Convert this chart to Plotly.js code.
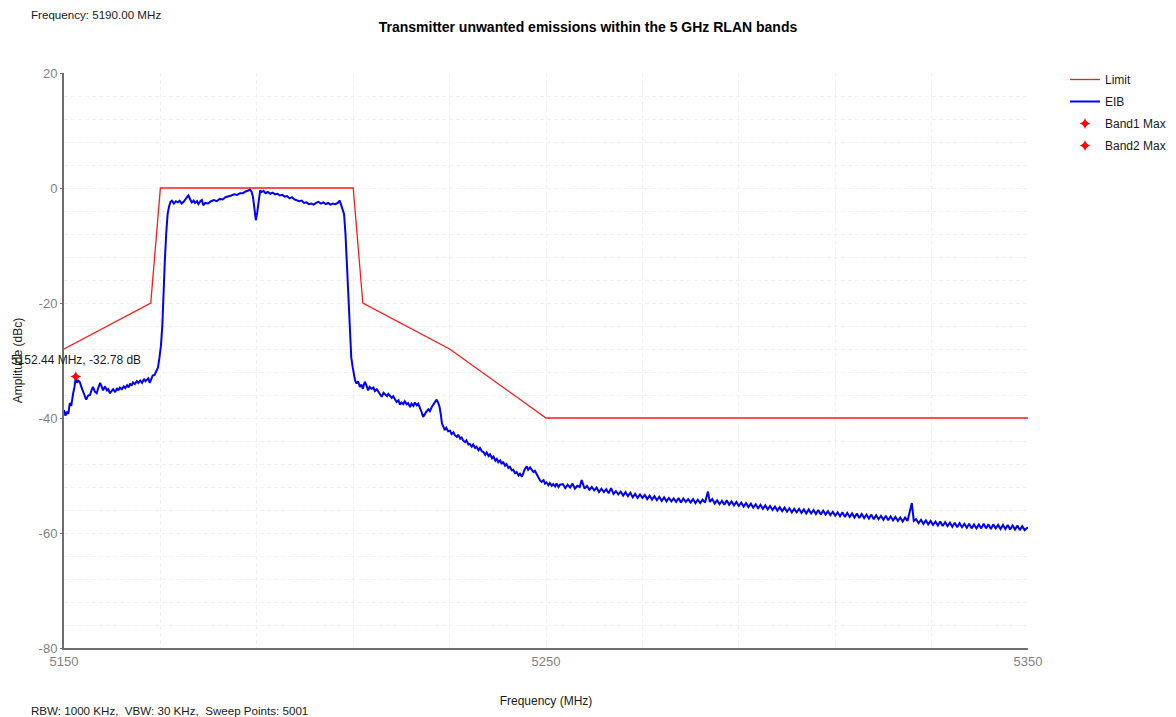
<!DOCTYPE html>
<html>
<head>
<meta charset="utf-8">
<script src="https://cdn.plot.ly/plotly-3.0.1.min.js"></script>
<style>html,body{margin:0;padding:0;background:#fff;}#chart{width:1176px;height:717px;}</style>
</head>
<body>
<div id="chart"></div>
<script>
// Limit mask (MHz, dBc)
const limitFreq = [5150, 5168, 5170, 5210, 5212, 5230, 5250, 5350];
const limitDb   = [-28, -20, 0, 0, -20, -28, -40, -40];

// Band markers
const band1Freq = [5152.44];
const band1Db   = [-32.78];
const band2Freq = [null];
const band2Db   = [null];

// EIB trace
const eibFreq = [
5150.0,5150.3,5150.6,5150.9,5151.2,5151.5,5151.9,5152.2,5152.44,5152.7,5152.9,5153.3,5153.6,5153.9,5154.3,5154.6,5155.0,5155.4,5155.7,5156.0,
5156.4,5156.8,5157.1,5157.5,5157.8,5158.1,5158.5,5158.9,5159.2,5159.5,5159.9,5160.2,5160.6,5161.0,5161.3,5161.6,5162.0,5162.4,5162.7,5163.1,
5163.4,5163.7,5164.0,5164.3,5164.7,5165.1,5165.4,5165.8,5166.2,5166.6,5166.9,5167.2,5167.5,5167.8,5168.1,5168.4,5168.8,5169.1,5169.5,5169.8,
5170.1,5170.4,5170.6,5170.9,5171.2,5171.5,5171.8,5172.1,
5172.4,5172.8,5173.2,5173.6,5174.0,5174.4,5174.8,5175.1,5175.5,5175.8,5176.2,5176.5,5176.9,5177.2,5177.6,5177.9,5178.3,5178.6,5178.9,5179.3,
5179.9,5180.5,5181.1,5181.7,5182.3,5182.9,5183.5,5184.1,5184.7,5185.3,5185.9,5186.5,5187.1,5187.7,5188.2,5188.6,5188.9,5189.2,5189.5,5189.8,
5190.1,5190.4,5190.7,5191.0,5191.4,5191.8,5192.3,5192.8,5193.3,5193.8,5194.3,5194.8,5195.3,5195.8,5196.3,5196.8,5197.3,5197.8,5198.3,5198.8,
5199.3,5199.8,5200.3,5200.8,5201.3,5201.8,5202.3,5202.8,5203.3,5203.8,5204.3,5204.8,5205.3,5205.8,5206.3,5206.8,5207.2,5207.5,5207.8,
5208.1,5208.4,5208.7,5209.0,5209.3,5209.6,5209.9,
5210.1,5210.4,5210.7,5211.0,5211.4,5211.7,5212.0,5212.4,5212.7,5213.1,5213.4,5213.8,5214.2,5214.5,5214.9,5215.2,5215.6,5215.9,5216.3,5216.6,
5217.0,5217.3,5217.6,5218.0,5218.3,5218.7,5219.0,5219.4,5219.7,5220.0,5220.4,5220.7,5221.1,5221.4,5221.8,5222.1,5222.5,5222.8,5223.2,5223.5,
5223.9,5224.2,5224.5,5224.9,5225.2,5225.6,5225.9,5226.3,5226.6,5226.9,5227.3,5227.6,5227.9,5228.2,5228.4,5228.7,5229.0,5229.3,5229.7,5230.1,
5230.4,5230.8,5231.1,5231.5,5231.8,5232.2,5232.5,5232.8,5233.2,5233.5,5233.9,5234.2,5234.6,5234.9,5235.3,5235.6,5236.0,5236.3,5236.7,5237.0,
5237.4,5237.7,5238.1,5238.4,5238.8,5239.1,5239.5,5239.8,5240.1,5240.5,5240.8,5241.1,5241.5,5241.8,5242.2,5242.5,5242.9,5243.2,5243.6,5243.9,
5244.3,5244.6,5245.0,5245.3,5245.6,5246.0,5246.3,5246.7,5247.0,5247.4,5247.7,5248.1,5248.4,5248.8,5249.1,5249.5,5249.8,5250.1,5250.5,5250.8,
5251.2,5251.5,5251.9,5252.2,5252.6,5252.9,
5253.5,5254.0,5254.5,5255.0,5255.5,5256.0,5256.5,5257.0,5257.4,5258.0,5258.5,5259.0,5259.5,5260.0,5260.5,5261.0,5261.5,5262.0,5262.5,5263.0,
5263.5,5264.0,5264.5,5265.0,5265.5,5266.0,5266.5,5267.0,5267.5,5268.0,5268.5,5269.0,5269.5,5270.0,5270.5,5271.0,5271.5,5272.0,5272.5,5273.0,
5273.5,5274.0,5274.5,5275.0,5275.5,5276.0,5276.5,5277.0,5277.5,5278.0,5278.5,5279.0,5279.5,5280.0,5280.5,5281.0,5281.5,5282.0,5282.5,5283.0,
5283.6,5284.0,5284.5,5285.0,5285.5,5286.0,5286.5,5287.0,5287.5,5288.0,5288.5,5289.0,5289.5,5290.0,5290.5,5291.0,5291.5,5292.0,5292.5,5293.0,
5293.5,5294.0,5294.5,5295.0,5295.5,5296.0,5296.5,5297.0,5297.5,5298.0,5298.5,5299.0,5299.5,5300.0,5300.5,5301.0,5301.5,5302.0,5302.5,5303.0,
5303.5,5304.0,5304.5,5305.0,5305.5,5306.0,5306.5,5307.0,5307.5,5308.0,5308.5,5309.0,5309.5,5310.0,5310.5,5311.0,5311.5,5312.0,5312.5,5313.0,
5313.5,5314.0,5314.5,5315.0,5315.5,5316.0,5316.5,5317.0,5317.5,5318.0,5318.5,5319.0,5319.5,5320.0,5320.5,5321.0,5321.5,5322.0,5322.5,5323.0,
5323.5,5324.0,5324.5,5325.0,5325.9,5326.3,5326.8,5327.3,5327.8,5328.3,5328.8,5329.3,5329.8,5330.3,5330.8,5331.3,5331.8,5332.3,5332.8,5333.3,
5333.8,5334.3,5334.8,5335.3,5335.8,5336.3,5336.8,5337.3,5337.8,5338.3,5338.8,5339.3,5339.8,5340.3,5340.8,5341.3,5341.8,5342.3,5342.8,5343.3,
5343.8,5344.3,5344.8,5345.3,5345.8,5346.3,5346.8,5347.3,5347.8,5348.3,5348.8,5349.3,5350.0
];
const eibDb = [
-38.6,-39.6,-38.9,-39.3,-37.4,-37.9,-35.7,-34.5,-32.8,-33.9,-33.4,-33.8,-34.6,-35.3,-36.2,-36.8,-36.1,-36.0,-35.2,-34.6,
-35.4,-35.7,-34.8,-33.9,-34.5,-35.2,-34.5,-35.2,-35.0,-35.7,-35.3,-35.0,-35.5,-34.8,-35.2,-34.7,-35.0,-34.5,-34.8,-34.3,
-34.7,-34.0,-34.4,-33.8,-34.1,-33.6,-33.9,-33.5,-33.9,-33.2,-33.6,-33.3,-33.1,-33.9,-33.2,-32.6,-32.5,-32.0,-31.2,-29.5,
-27.5,-24.0,-19.0,-13.0,-8.0,-4.5,-3.2,-2.4,
-2.2,-2.7,-2.3,-2.5,-2.2,-2.7,-2.4,-2.0,-1.6,-1.3,-2.0,-2.5,-2.2,-2.6,-2.3,-2.8,-2.3,-2.1,-3.0,-2.6,
-2.7,-2.3,-2.1,-2.3,-1.9,-2.0,-1.6,-1.5,-1.3,-1.1,-1.2,-0.9,-0.9,-0.6,-0.5,-0.3,-0.6,-1.5,-3.5,-5.6,
-4.2,-1.8,-0.4,-0.7,-0.5,-0.9,-0.7,-1.0,-0.8,-1.1,-1.0,-1.3,-1.2,-1.5,-1.4,-1.8,-1.6,-2.0,-2.1,-2.3,
-2.2,-2.6,-2.5,-2.8,-2.7,-2.9,-2.6,-2.4,-2.7,-2.5,-2.8,-2.6,-2.9,-2.7,-2.8,-2.6,-2.2,-2.9,-3.6,
-4.5,-8.0,-14.0,-20.0,-25.0,-29.5,-31.2,
-32.2,-33.5,-34.0,-33.6,-34.6,-34.2,-34.9,-33.7,-34.2,-35.2,-34.6,-34.9,-34.7,-35.3,-35.0,-35.4,-35.8,-36.3,-35.6,-35.8,
-36.2,-35.8,-36.1,-36.5,-36.2,-36.9,-37.2,-36.9,-37.7,-37.3,-37.6,-37.1,-37.6,-37.4,-38.1,-37.5,-37.9,-37.3,-37.8,-37.5,
-38.2,-39.0,-39.8,-39.2,-38.9,-38.5,-38.8,-38.1,-37.7,-37.2,-36.8,-37.3,-38.0,-39.5,-40.9,-41.5,-42.1,-41.7,-42.3,-42.2,
-42.8,-42.5,-43.0,-43.3,-42.9,-43.6,-43.4,-43.9,-44.2,-43.9,-44.6,-44.5,-45.0,-44.6,-45.2,-45.0,-45.6,-45.2,-45.8,-45.9,
-46.4,-46.0,-46.6,-46.3,-47.0,-46.7,-47.4,-47.1,-47.7,-47.4,-48.0,-47.6,-48.3,-48.0,-48.7,-48.5,-49.1,-49.0,-49.6,-49.4,
-50.0,-49.7,-50.2,-49.6,-48.9,-48.4,-49.0,-48.6,-48.9,-49.4,-49.2,-49.9,-50.4,-50.9,-51.1,-50.8,-51.4,-51.2,-51.7,-51.3,
-51.8,-51.5,-51.9,-51.4,-52.0,-51.6,
-51.5,-52.2,-51.6,-52.1,-51.4,-52.3,-51.8,-52.0,-50.8,-52.3,-51.8,-52.5,-52.0,-52.6,-52.1,-52.9,-52.3,-52.9,-52.4,-53.1,
-52.2,-53.2,-52.7,-53.3,-52.8,-53.5,-52.9,-53.6,-53.0,-53.8,-53.2,-53.9,-53.3,-53.9,-53.4,-54.1,-53.5,-54.2,-53.6,-54.3,
-53.7,-54.4,-53.8,-54.5,-53.9,-54.5,-54.0,-54.6,-53.9,-54.7,-54.0,-54.6,-54.1,-54.7,-54.1,-54.8,-54.2,-54.8,-54.2,-54.7,
-52.8,-54.6,-54.1,-54.9,-54.3,-55.0,-54.4,-55.1,-54.3,-55.1,-54.5,-55.2,-54.6,-55.3,-54.7,-55.4,-54.8,-55.5,-54.9,-55.6,
-55.0,-55.7,-55.1,-55.8,-55.2,-55.9,-55.3,-56.0,-55.4,-56.1,-55.5,-56.2,-55.6,-56.3,-55.7,-56.4,-55.8,-56.4,-55.8,-56.5,
-55.9,-56.6,-55.9,-56.6,-56.0,-56.7,-56.0,-56.8,-56.1,-56.8,-56.2,-56.9,-56.3,-57.0,-56.4,-57.1,-56.4,-57.2,-56.5,-57.2,
-56.6,-57.3,-56.6,-57.4,-56.7,-57.4,-56.8,-57.5,-56.8,-57.6,-56.9,-57.6,-57.0,-57.7,-57.0,-57.8,-57.1,-57.8,-57.2,-57.9,
-57.3,-58.0,-57.3,-57.9,-54.8,-57.9,-57.6,-58.3,-57.7,-58.4,-57.8,-58.5,-57.9,-58.6,-58.0,-58.7,-58.0,-58.8,-58.1,-58.8,
-58.2,-58.9,-58.2,-59.0,-58.3,-59.0,-58.4,-59.1,-58.4,-59.2,-58.5,-59.2,-58.5,-59.2,-58.4,-59.2,-58.5,-59.3,-58.5,-59.2,
-58.6,-59.3,-58.6,-59.3,-58.6,-59.4,-58.7,-59.4,-58.7,-59.5,-58.8,-59.5,-59.0
];

const xTicks = [5150, 5250, 5350];
const yTicks = [20, 0, -20, -40, -60, -80];

const FONT = '"Liberation Sans", Arial, sans-serif';
const gridC = '#f0f0f0';
const gridDash = '4px,3px';

const traces = [
  {x: limitFreq, y: limitDb, name: 'Limit', type: 'scatter', mode: 'lines', legendgroup: 'a',
   line: {color: '#ff1a1a', width: 1.3}},
  {x: eibFreq, y: eibDb, name: 'EIB', type: 'scatter', mode: 'lines', legendgroup: 'b',
   line: {color: '#0000ff', width: 2}},
  {x: band1Freq, y: band1Db, name: 'Band1 Max', type: 'scatter', mode: 'markers', legendgroup: 'c',
   marker: {color: '#ff0000', symbol: 'star-diamond', size: 8}},
  {x: band2Freq, y: band2Db, name: 'Band2 Max', type: 'scatter', mode: 'markers', legendgroup: 'd',
   marker: {color: '#ff0000', symbol: 'star-diamond', size: 8}}
];

const layout = {
  width: 1176, height: 717,
  margin: {l: 64, r: 148, t: 73, b: 69},
  paper_bgcolor: '#ffffff', plot_bgcolor: '#ffffff',
  font: {family: FONT, size: 12, color: '#1a1a1a'},
  title: {text: '<b>Transmitter unwanted emissions within the 5 GHz RLAN bands</b>',
          font: {family: FONT, size: 14, color: '#000'},
          x: 0.5, xref: 'container', xanchor: 'center',
          y: 1 - 27/717, yref: 'container', yanchor: 'middle'},
  showlegend: true,
  legend: {xref: 'container', yref: 'container', x: 1065/1176, xanchor: 'left',
           y: 1 - 65/717, yanchor: 'top',
           font: {family: FONT, size: 12, color: '#1a1a1a'},
           bgcolor: 'rgba(0,0,0,0)', itemwidth: 30, tracegroupgap: 3},
  xaxis: {
    range: [5150, 5350], tickmode: 'array', tickvals: xTicks, ticktext: xTicks.map(String),
    showgrid: true, gridcolor: gridC, griddash: gridDash, gridwidth: 1,
    minor: {dtick: 20, tick0: 5150, showgrid: true, gridcolor: gridC, griddash: gridDash, gridwidth: 1, ticks: ''},
    showline: true, linecolor: '#6e6e6e', linewidth: 2, zeroline: false,
    ticks: '', tickfont: {family: FONT, size: 13, color: '#7f7f7f'},
    title: {text: 'Frequency (MHz)', font: {family: FONT, size: 12, color: '#1a1a1a'}, standoff: 29},
    automargin: false
  },
  yaxis: {
    range: [-80, 20], tickmode: 'array', tickvals: yTicks, ticktext: yTicks.map(String),
    showgrid: true, gridcolor: gridC, griddash: gridDash, gridwidth: 1,
    minor: {dtick: 4, tick0: 0, showgrid: true, gridcolor: gridC, griddash: gridDash, gridwidth: 1, ticks: ''},
    showline: true, linecolor: '#6e6e6e', linewidth: 2, zeroline: false,
    ticks: 'outside', ticklen: 2, tickcolor: '#6e6e6e',
    tickfont: {family: FONT, size: 13, color: '#7f7f7f'},
    title: {text: 'Amplitude (dBc)', font: {family: FONT, size: 12, color: '#1a1a1a'}, standoff: 13},
    automargin: false
  },
  annotations: [
    {x: band1Freq[0], y: band1Db[0], xref: 'x', yref: 'y',
     text: band1Freq[0].toFixed(2) + ' MHz, ' + band1Db[0].toFixed(2) + ' dB',
     showarrow: false, yshift: 16, xanchor: 'center', yanchor: 'middle',
     font: {family: FONT, size: 12, color: '#1a1a1a'}},
    {x: (29-64)/964, y: (648-14)/575, xref: 'paper', yref: 'paper',
     text: 'Frequency: 5190.00 MHz', showarrow: false, xanchor: 'left', yanchor: 'middle',
     font: {family: FONT, size: 11.6, color: '#1a1a1a'}},
    {x: (29-64)/964, y: (648-710)/575, xref: 'paper', yref: 'paper',
     text: 'RBW: 1000 KHz,  VBW: 30 KHz,  Sweep Points: 5001', showarrow: false,
     xanchor: 'left', yanchor: 'middle',
     font: {family: FONT, size: 11.6, color: '#1a1a1a'}}
  ]
};

Plotly.newPlot('chart', traces, layout, {displayModeBar: false, staticPlot: true});
</script>
</body>
</html>
